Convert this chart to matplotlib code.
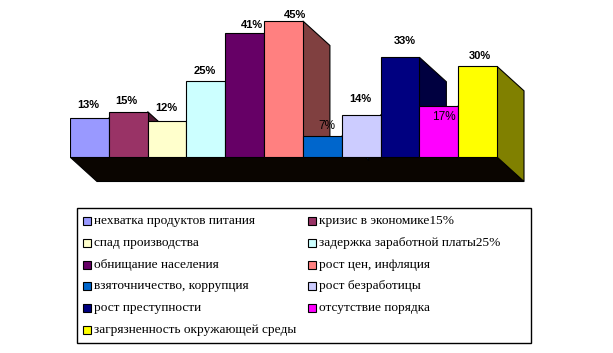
import matplotlib.pyplot as plt
from matplotlib.patches import Polygon, Rectangle

categories = ["нехватка продуктов питания", "кризис в экономике15%", "спад производства",
              "задержка заработной платы25%", "обнищание населения", "рост цен, инфляция",
              "взяточничество, коррупция", "рост безработицы", "рост преступности",
              "отсутствие порядка", "загрязненность окружающей среды"]
values = [13, 15, 12, 25, 41, 45, 7, 14, 33, 17, 30]
colors = ["#9999FF", "#993366", "#FFFFCC", "#CCFFFF", "#660066", "#FF8080",
          "#0066CC", "#CCCCFF", "#000080", "#FF00FF", "#FFFF00"]
sides = ["#4d4d80", "#4d1a33", "#808066", "#668080", "#330033", "#804040",
         "#003366", "#666680", "#000040", "#800080", "#808000"]

# label nudges in pixels (x, y up)
nudges = [(-1, 13), (-2, 11), (-1, 13), (-1, 10), (7, 8), (12, 6),
          (5, 10), (-1, 16), (5, 16), (5, -11), (2, 10)]

W, H = 613, 353
fig = plt.figure(figsize=(W / 100, H / 100), dpi=100)

# pixel layout of plot area
x0, x1 = 70, 497          # front of bars
base = 157                # bottom of bars
ppx = (x1 - x0) / len(values)
ppy = (base - 21) / 45.0
dx = 27 / ppx
dy = -24.5 / ppy
xmax, ymin, ymax = 12.0, -9.5, 48.0
left_px, right_px = x0, x0 + xmax * ppx
top_px, bot_px = base - ymax * ppy, base - ymin * ppy
ax = fig.add_axes([left_px / W, 1 - bot_px / H, (right_px - left_px) / W, (bot_px - top_px) / H])
ax.set_xlim(0, xmax)
ax.set_ylim(ymin, ymax)
ax.axis("off")

n = len(values)
ax.add_patch(Polygon([(0, 0), (n, 0), (n + dx, dy), (dx, dy)], closed=True,
                     facecolor="#0a0500", edgecolor="black", lw=0.8))

for i, v in enumerate(values):
    xr = i + 1
    yb = dy if i == n - 1 else 0
    ax.add_patch(Polygon([(xr, v), (xr + dx, v + dy), (xr + dx, yb), (xr, 0)], closed=True,
                         facecolor=sides[i], edgecolor="black", lw=0.8))
    ax.add_patch(Rectangle((i, 0), 1, v, facecolor=colors[i], edgecolor="black", lw=0.8))

for i, v in enumerate(values):
    plain = v in (7, 17)
    ax.annotate(f"{v}%", (i + 0.5, v), xytext=nudges[i], textcoords="offset pixels",
                ha="center", va="center",
                fontsize=8.5 if plain else 8, fontweight="normal" if plain else "bold",
                family="Liberation Sans", color="black")

# legend
lg = fig.add_axes([0, 0, 1, 1])
lg.set_xlim(0, W)
lg.set_ylim(H, 0)
lg.axis("off")
lg.add_patch(Rectangle((77, 208), 454, 135, facecolor="none", edgecolor="black", lw=1))
for k, name in enumerate(categories):
    col, row = k % 2, k // 2
    mx = 83 if col == 0 else 308
    my = 221 + row * 21.8
    lg.add_patch(Rectangle((mx, my - 4), 8, 8, facecolor=colors[k], edgecolor="black", lw=0.8))
    lg.text(mx + 11, my, name, ha="left", va="center", fontsize=9.6,
            family="Liberation Serif", color="black")

fig.savefig("out.png", dpi=100, facecolor="white")
